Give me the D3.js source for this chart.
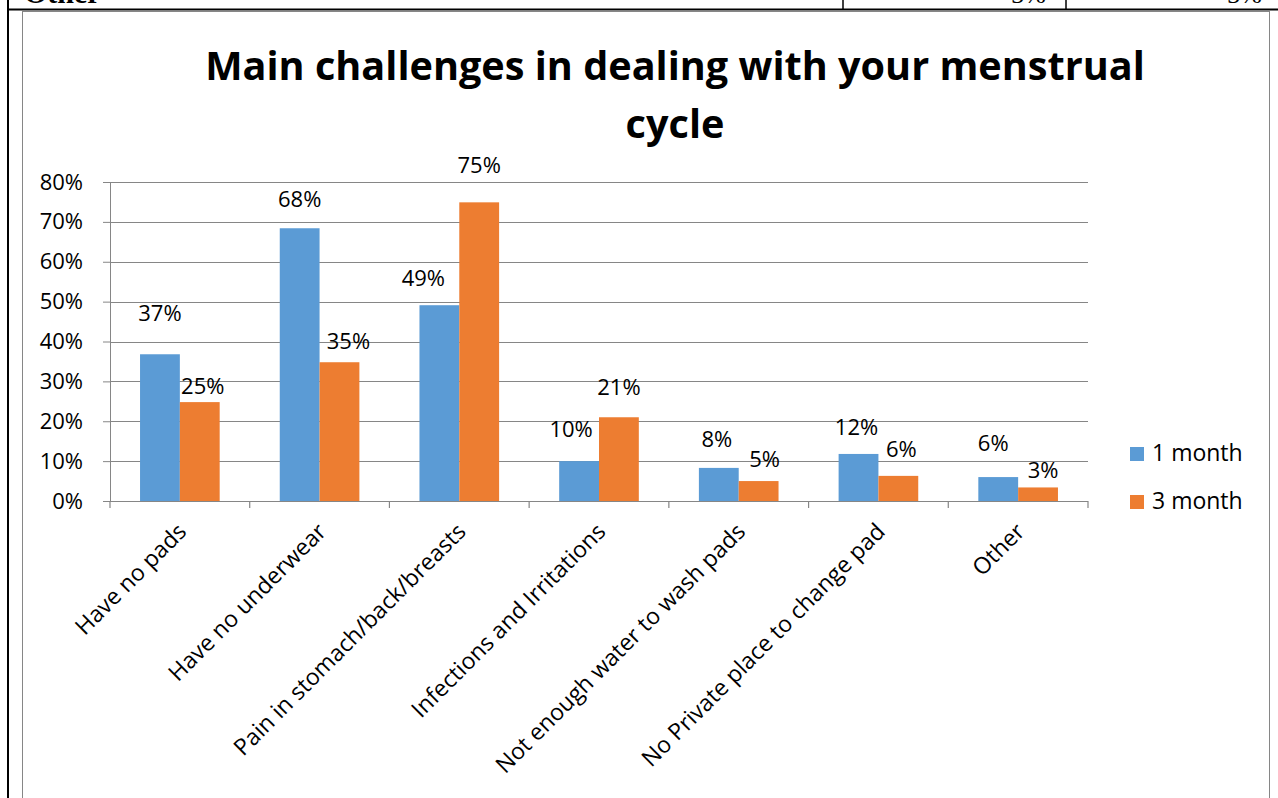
<!DOCTYPE html>
<html>
<head>
<meta charset="utf-8">
<title>Main challenges in dealing with your menstrual cycle</title>
<style>
body {
  margin: 0;
  padding: 0;
  background: #fff;
}
svg {
  display: block;
  font-family: "Open Sans", sans-serif;
}
</style>
<script src="https://d3js.org/d3.v7.min.js"></script>
</head>
<body>
<svg id="chart" width="1278" height="798"></svg>
<script>
// chart data
const categories = [
  "Have no pads",
  "Have no underwear",
  "Pain in stomach/back/breasts",
  "Infections and Irritations",
  "Not enough water to wash pads",
  "No Private place to change pad",
  "Other"
];
const seriesNames = ["1 month", "3 month"];
const oneMonth = [0.368, 0.684, 0.491, 0.100, 0.083, 0.118, 0.060];
const threeMonth = [0.248, 0.348, 0.749, 0.210, 0.050, 0.063, 0.034];
const yTicks = [0, 0.1, 0.2, 0.3, 0.4, 0.5, 0.6, 0.7, 0.8];
const titleLines = ["Main challenges in dealing with your menstrual", "cycle"];

// hand placed label nudges [dx, dy from bar top], as in the original
const labelNudge1 = [[0, -33], [0, -21], [-16, -19], [-8, -24], [-2, -21], [-2, -19], [-5, -26]];
const labelNudge3 = [[3, -8], [9, -13], [0, -29], [0, -22], [6, -14], [3, -19], [5, -9]];

const colors = ["#5b9bd5", "#ed7d31"];
const gridColor = "#868686";

const svg = d3.select("#chart");

// page bits around the chart (cut table row above, page border)
svg.append("text")
  .attr("x", 24).attr("y", 3)
  .attr("font-family", "Liberation Serif, serif")
  .attr("font-weight", "bold")
  .attr("font-size", 30)
  .text("Other");
svg.append("text")
  .attr("x", 1046).attr("y", 3)
  .attr("text-anchor", "end")
  .attr("font-family", "Liberation Serif, serif")
  .attr("font-size", 26)
  .text("3%");
svg.append("text")
  .attr("x", 1262).attr("y", 3)
  .attr("text-anchor", "end")
  .attr("font-family", "Liberation Serif, serif")
  .attr("font-size", 26)
  .text("3%");
svg.append("line")
  .attr("x1", 7).attr("x2", 1278).attr("y1", 9.5).attr("y2", 9.5)
  .attr("stroke", "#000").attr("stroke-width", 2);
svg.append("line")
  .attr("x1", 8).attr("x2", 8).attr("y1", 0).attr("y2", 798)
  .attr("stroke", "#000").attr("stroke-width", 2);
[843, 1066].forEach(x => {
  svg.append("line")
    .attr("x1", x).attr("x2", x).attr("y1", 0).attr("y2", 9)
    .attr("stroke", "#000").attr("stroke-width", 1.5);
});

// chart frame
svg.append("rect")
  .attr("x", 22.5).attr("y", 11.5)
  .attr("width", 1247).attr("height", 800)
  .attr("fill", "#fff")
  .attr("stroke", gridColor).attr("stroke-width", 1);

// title, sized to the width it had in the original
const title = svg.append("g");
const t1 = title.append("text")
  .attr("x", 675).attr("y", 80)
  .attr("text-anchor", "middle")
  .attr("font-weight", "bold")
  .attr("font-size", 40)
  .text(titleLines[0]);
const w = t1.node().getComputedTextLength();
const titleSize = 40 * 940 / w;
t1.attr("font-size", titleSize);
title.append("text")
  .attr("x", 675).attr("y", 138)
  .attr("text-anchor", "middle")
  .attr("font-weight", "bold")
  .attr("font-size", titleSize)
  .text(titleLines[1]);

// scales
const plotLeft = 110, plotRight = 1088, plotTop = 182, plotBottom = 501;

const x0 = d3.scaleBand()
  .domain(categories)
  .range([plotLeft, plotRight])
  .padding(0);

const gap = x0.bandwidth() * 0.215;
const x1 = d3.scaleBand()
  .domain(seriesNames)
  .range([gap, x0.bandwidth() - gap])
  .padding(0);

const y = d3.scaleLinear()
  .domain([0, 0.8])
  .range([plotBottom, plotTop]);

// gridlines + y axis
const yAxis = d3.axisLeft(y)
  .tickValues(yTicks)
  .tickFormat(d3.format(".0%"))
  .tickSize(7)
  .tickPadding(20);

const yg = svg.append("g")
  .attr("transform", `translate(${plotLeft},0)`)
  .call(yAxis);
yg.select(".domain").attr("stroke", gridColor);
yg.selectAll(".tick line").attr("stroke", gridColor);
yg.selectAll(".tick text")
  .attr("font-family", "Open Sans, sans-serif")
  .attr("font-size", 22)
  .attr("fill", "#000");

svg.append("g")
  .selectAll("line")
  .data(yTicks)
  .join("line")
  .attr("x1", plotLeft).attr("x2", plotRight)
  .attr("y1", d => Math.round(y(d)) + 0.5)
  .attr("y2", d => Math.round(y(d)) + 0.5)
  .attr("stroke", gridColor)
  .attr("stroke-width", 1.2);

// x axis: ticks between categories
const xg = svg.append("g");
xg.selectAll("line")
  .data(d3.range(categories.length + 1))
  .join("line")
  .attr("x1", i => plotLeft + i * x0.bandwidth())
  .attr("x2", i => plotLeft + i * x0.bandwidth())
  .attr("y1", plotBottom)
  .attr("y2", plotBottom + 7)
  .attr("stroke", gridColor)
  .attr("stroke-width", 1.2);

xg.selectAll("text")
  .data(categories)
  .join("text")
  .attr("transform", d => `translate(${x0(d) + x0.bandwidth() / 2 + 8},533) rotate(-45)`)
  .attr("text-anchor", "end")
  .attr("font-size", 23)
  .attr("fill", "#000")
  .text(d => d);

// bars
const rows = categories.map((c, i) => ({
  cat: c,
  vals: [
    { s: seriesNames[0], v: oneMonth[i], nudge: labelNudge1[i] },
    { s: seriesNames[1], v: threeMonth[i], nudge: labelNudge3[i] }
  ]
}));

const groups = svg.append("g")
  .selectAll("g")
  .data(rows)
  .join("g")
  .attr("transform", d => `translate(${x0(d.cat)},0)`);

groups.selectAll("rect")
  .data(d => d.vals)
  .join("rect")
  .attr("x", d => x1(d.s))
  .attr("y", d => y(d.v))
  .attr("width", x1.bandwidth())
  .attr("height", d => y(0) - y(d.v))
  .attr("fill", (d, i) => colors[i]);

groups.selectAll("text")
  .data(d => d.vals)
  .join("text")
  .attr("x", d => x1(d.s) + x1.bandwidth() / 2 + d.nudge[0])
  .attr("y", d => y(d.v) + d.nudge[1])
  .attr("text-anchor", "middle")
  .attr("font-size", 22)
  .attr("fill", "#000")
  .text(d => d3.format(".0%")(d.v));

// legend
const legend = svg.append("g")
  .selectAll("g")
  .data(seriesNames)
  .join("g")
  .attr("transform", (d, i) => `translate(1130,${447 + i * 48})`);

legend.append("rect")
  .attr("width", 14).attr("height", 14)
  .attr("fill", (d, i) => colors[i]);

legend.append("text")
  .attr("x", 22).attr("y", 14)
  .attr("font-size", 23)
  .attr("fill", "#000")
  .text(d => d);
</script>
</body>
</html>
